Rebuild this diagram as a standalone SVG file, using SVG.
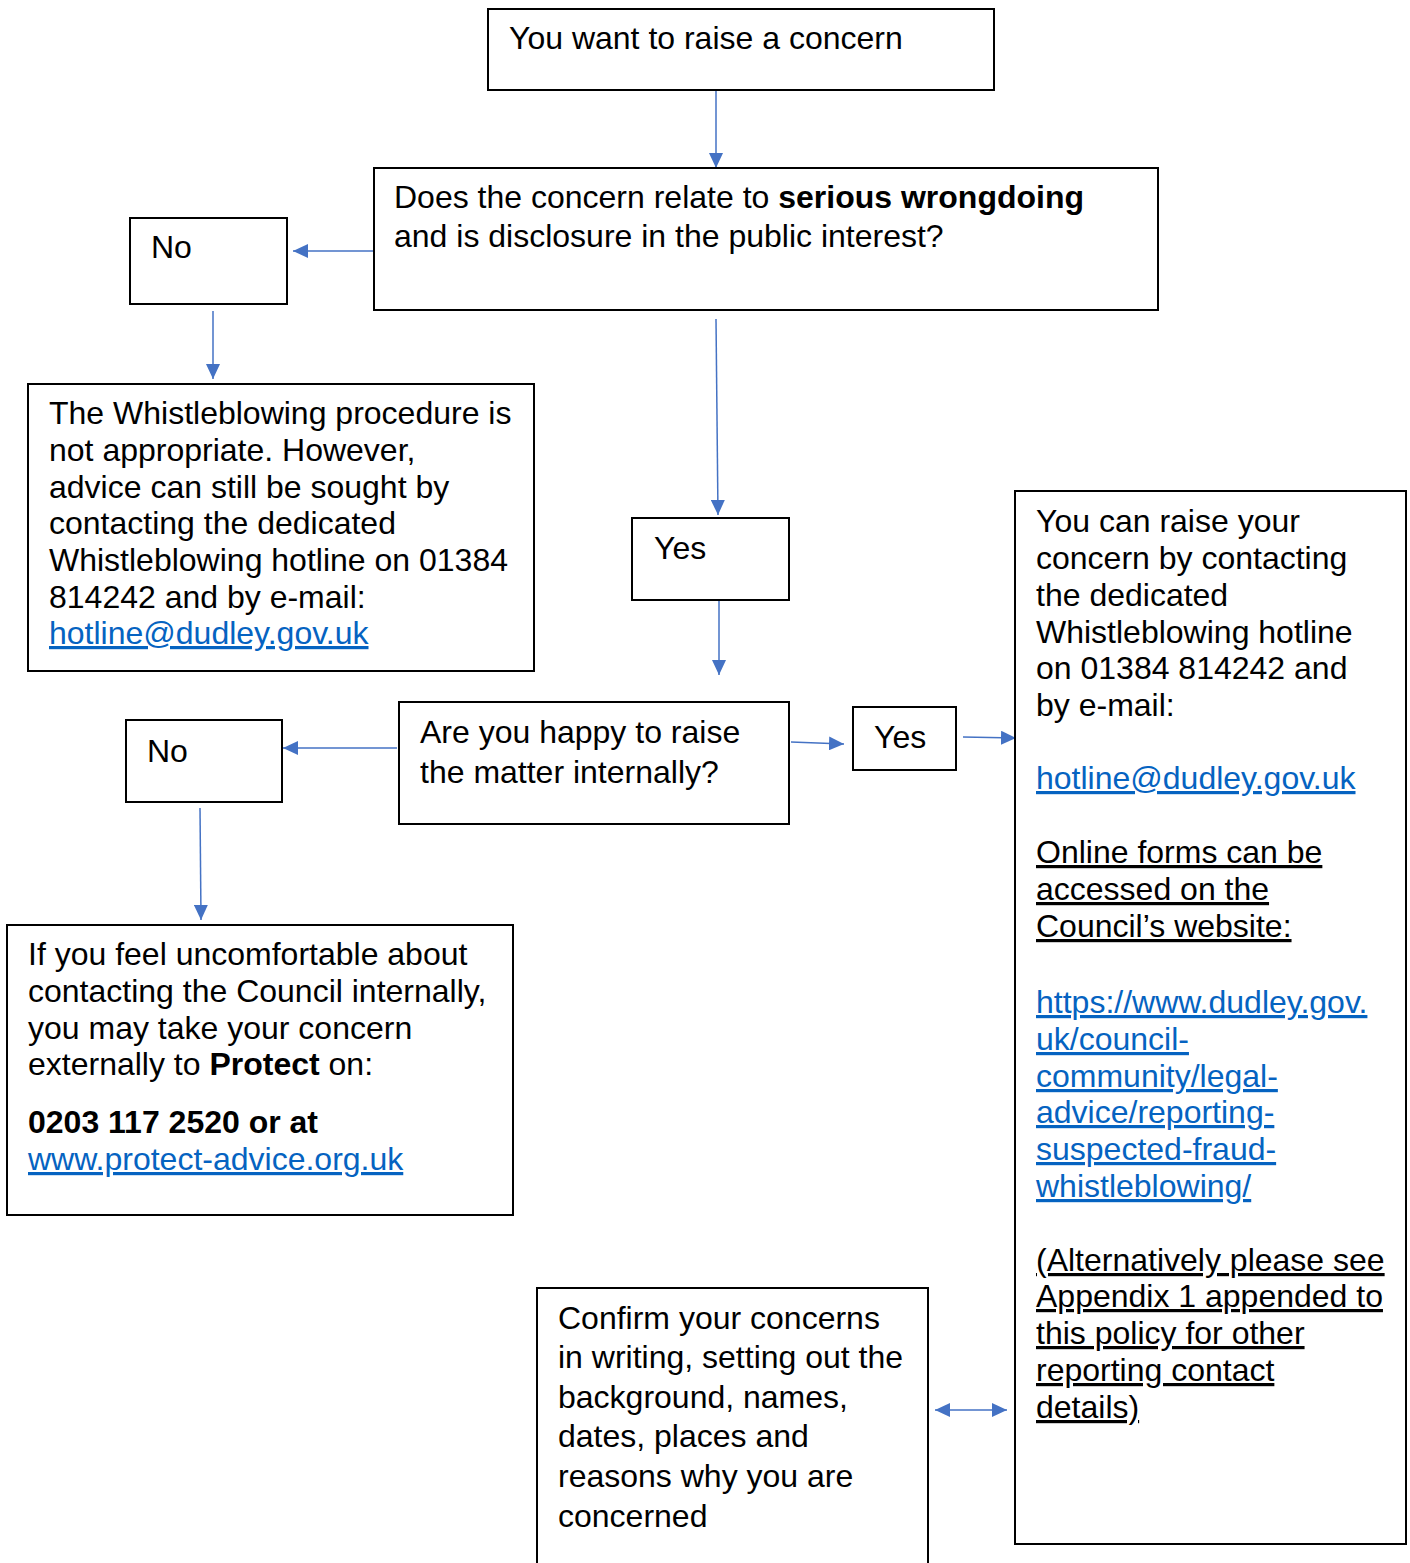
<svg xmlns="http://www.w3.org/2000/svg" width="1410" height="1563" viewBox="0 0 1410 1563">
<style>
.box{fill:#fff;stroke:#000;stroke-width:2}
.t{font-family:"Liberation Sans",Arial,sans-serif;font-size:32px;fill:#000}
.lnk{fill:#0563C1;text-decoration:underline}
.u{text-decoration:underline}
.b{font-weight:bold}
.c{stroke:#4472C4;stroke-width:1.5;fill:none;marker-end:url(#ah)}
</style>
<defs>
<marker id="ah" markerUnits="userSpaceOnUse" markerWidth="16" markerHeight="14" refX="15" refY="7" orient="auto-start-reverse">
<path d="M0,0 L15,7 L0,14 z" fill="#4472C4"/>
</marker>
</defs>
<rect width="1410" height="1563" fill="#fff"/>
<g id="connectors">
<line class="c" x1="716" y1="91" x2="716" y2="168"/>
<line class="c" x1="373" y1="251" x2="293" y2="251"/>
<line class="c" x1="213" y1="311" x2="213" y2="379"/>
<line class="c" x1="716" y1="319" x2="718" y2="515"/>
<line class="c" x1="719" y1="601" x2="719" y2="675"/>
<line class="c" x1="397" y1="748" x2="283" y2="748"/>
<line class="c" x1="200" y1="808" x2="201" y2="920"/>
<line class="c" x1="791" y1="742" x2="844" y2="744"/>
<line class="c" x1="963" y1="737" x2="1016" y2="738"/>
<line class="c" x1="935" y1="1410" x2="1007" y2="1410" style="marker-start:url(#ah)"/>
</g>
<g id="start">
<rect class="box" x="488" y="9" width="506" height="81"/>
<text class="t" x="509" y="49">You want to raise a concern</text>
</g>
<g id="q1">
<rect class="box" x="374" y="168" width="784" height="142"/>
<text class="t" x="394" y="208">Does the concern relate to <tspan class="b">serious wrongdoing</tspan></text>
<text class="t" x="394" y="247">and is disclosure in the public interest?</text>
</g>
<g id="no1">
<rect class="box" x="130" y="218" width="157" height="86"/>
<text class="t" x="151" y="258">No</text>
</g>
<g id="notappropriate">
<rect class="box" x="28" y="384" width="506" height="287"/>
<text class="t" x="49" y="424">The Whistleblowing procedure is</text>
<text class="t" x="49" y="461">not appropriate. However,</text>
<text class="t" x="49" y="498">advice can still be sought by</text>
<text class="t" x="49" y="534">contacting the dedicated</text>
<text class="t" x="49" y="571">Whistleblowing hotline on 01384</text>
<text class="t" x="49" y="608">814242 and by e-mail:</text>
<text class="t lnk" x="49" y="644">hotline@dudley.gov.uk</text>
</g>
<g id="yes1">
<rect class="box" x="632" y="518" width="157" height="82"/>
<text class="t" x="654" y="559">Yes</text>
</g>
<g id="q2">
<rect class="box" x="399" y="702" width="390" height="122"/>
<text class="t" x="420" y="743">Are you happy to raise</text>
<text class="t" x="420" y="783">the matter internally?</text>
</g>
<g id="no2">
<rect class="box" x="126" y="720" width="156" height="82"/>
<text class="t" x="147" y="762">No</text>
</g>
<g id="external">
<rect class="box" x="7" y="925" width="506" height="290"/>
<text class="t" x="28" y="965">If you feel uncomfortable about</text>
<text class="t" x="28" y="1002">contacting the Council internally,</text>
<text class="t" x="28" y="1039">you may take your concern</text>
<text class="t" x="28" y="1075">externally to <tspan class="b">Protect</tspan> on:</text>
<text class="t b" x="28" y="1133">0203 117 2520 or at</text>
<text class="t lnk" x="28" y="1170">www.protect-advice.org.uk</text>
</g>
<g id="yes2">
<rect class="box" x="853" y="707" width="103" height="63"/>
<text class="t" x="874" y="748">Yes</text>
</g>
<g id="raise">
<rect class="box" x="1015" y="491" width="391" height="1053"/>
<text class="t" x="1036" y="532">You can raise your</text>
<text class="t" x="1036" y="569">concern by contacting</text>
<text class="t" x="1036" y="606">the dedicated</text>
<text class="t" x="1036" y="643">Whistleblowing hotline</text>
<text class="t" x="1036" y="679">on 01384 814242 and</text>
<text class="t" x="1036" y="716">by e-mail:</text>
<text class="t lnk" x="1036" y="789">hotline@dudley.gov.uk</text>
<text class="t u" x="1036" y="863">Online forms can be</text>
<text class="t u" x="1036" y="900">accessed on the</text>
<text class="t u" x="1036" y="937">Council’s website:</text>
<text class="t lnk" x="1036" y="1013">https://www.dudley.gov.</text>
<text class="t lnk" x="1036" y="1050">uk/council-</text>
<text class="t lnk" x="1036" y="1087">community/legal-</text>
<text class="t lnk" x="1036" y="1123">advice/reporting-</text>
<text class="t lnk" x="1036" y="1160">suspected-fraud-</text>
<text class="t lnk" x="1036" y="1197">whistleblowing/</text>
<text class="t u" x="1036" y="1271">(Alternatively please see</text>
<text class="t u" x="1036" y="1307">Appendix 1 appended to</text>
<text class="t u" x="1036" y="1344">this policy for other</text>
<text class="t u" x="1036" y="1381">reporting contact</text>
<text class="t u" x="1036" y="1418">details)</text>
</g>
<g id="confirm">
<rect class="box" x="537" y="1288" width="391" height="300"/>
<text class="t" x="558" y="1329">Confirm your concerns</text>
<text class="t" x="558" y="1368">in writing, setting out the</text>
<text class="t" x="558" y="1408">background, names,</text>
<text class="t" x="558" y="1447">dates, places and</text>
<text class="t" x="558" y="1487">reasons why you are</text>
<text class="t" x="558" y="1527">concerned</text>
</g>
</svg>
